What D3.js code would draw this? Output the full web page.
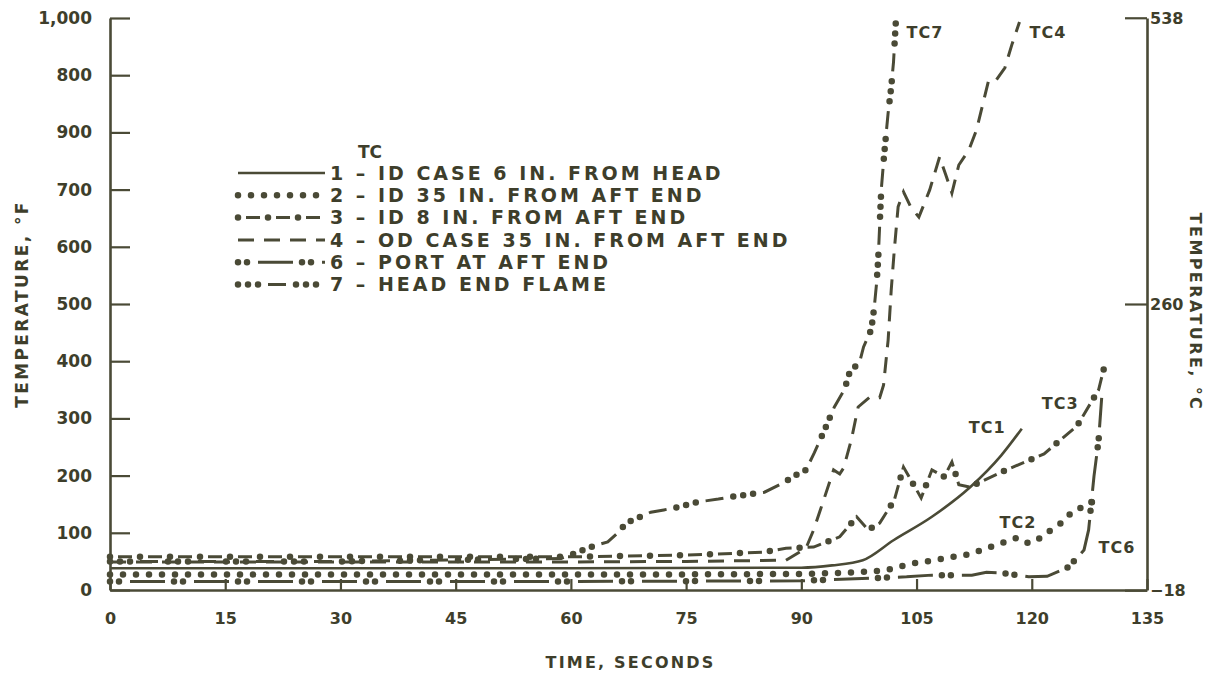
<!DOCTYPE html>
<html>
<head>
<meta charset="utf-8">
<script src="https://cdn.jsdelivr.net/npm/d3@7"></script>
<style>
  html, body { margin: 0; padding: 0; background: #fff; }
  svg { display: block; }
  text { font-family: "DejaVu Sans", sans-serif; font-weight: bold; fill: #3e3e2b; }
</style>
</head>
<body>
<div id="chart"></div>
<script>
// 温度データ（時間[s], 温度[°F]）
const tc1 = [[0,38],[30,38],[60,38],[90,39],[94,43],[98,52],[102,87],[107,128],[112,180],[116,235],[118.7,282]];
const tc2 = [[0,27],[30,27],[60,27],[88,28],[95,30],[101,35],[104,45],[107.3,52],[109.8,58],[111.9,63],[114.1,73],[116.1,82],[118.3,91],[119.7,82],[121.6,96],[123,110],[124.3,122],[125.5,140],[126.8,145],[128.2,157]];
const tc3 = [[0,58],[30,58],[60,58],[75,61],[85,66],[88,73],[91.6,75],[95,93],[97.2,128],[98.7,105],[100.2,117],[102.1,157],[103.3,215],[105.6,161],[107,210],[108.6,198],[109.6,224],[110.5,184],[111.9,180],[116.7,210],[121.6,238],[125.9,287],[128.7,350],[129.4,388]];
const tc4 = [[0,49],[30,49],[60,49],[75,50],[88,52],[90.6,73],[91.6,105],[92.9,157],[94.2,210],[95,203],[95.5,213],[96.5,262],[97.4,320],[98.9,337],[100.2,336],[100.7,358],[101.3,437],[101.7,524],[102.1,594],[102.6,670],[103.3,696],[104.3,668],[105.3,652],[106.7,699],[108,757],[108.8,726],[109.6,694],[110.5,743],[111.8,769],[112.8,804],[114.4,892],[115.4,892],[116.5,913],[117.4,953],[118.4,993]];
const tc6 = [[0,15],[30,15],[60,15],[90,16],[103.7,23],[107,26],[112.2,26],[114.1,31],[116,30],[119.6,23],[122,24],[124.8,40],[126.8,70],[127.4,105],[128.1,199],[128.7,262],[129.1,336]];
const tc7 = [[0,50],[30,50],[58.7,55],[63,77],[64.8,84],[66.1,100],[67.2,117],[70.4,136],[72.1,140],[74,145],[76.6,154],[79.2,159],[80.9,163],[82.6,166],[85.2,171],[87.6,187],[89.3,201],[90.6,210],[91.7,240],[92.9,276],[94.3,320],[95.6,350],[96.3,381],[97.6,399],[98.1,425],[99.1,455],[99.5,495],[99.8,537],[100,577],[100.2,638],[100.4,699],[100.8,764],[101.3,834],[101.7,879],[102,923],[102.3,993]];

// 軸の目盛り
const timeTicks = [0, 15, 30, 45, 60, 75, 90, 105, 120, 135];
const tempTicks = [0, 100, 200, 300, 400, 500, 600, 700, 800, 900, 1000];
const tempTickLabels = ["0", "100", "200", "300", "400", "500", "600", "700", "900", "800", "1,000"];
const celsiusTicks = [-18, 260, 538];

// 曲線ラベル（時間, 温度）
const curveLabels = [
  { text: "TC7", t: 103.7, f: 974 },
  { text: "TC4", t: 119.7, f: 974 },
  { text: "TC1", t: 111.8, f: 285 },
  { text: "TC3", t: 121.3, f: 327 },
  { text: "TC2", t: 115.8, f: 119 },
  { text: "TC6", t: 128.7, f: 75 }
];

// 凡例
const legendItems = [
  { key: "tc1", text: "1 – ID CASE 6 IN. FROM HEAD" },
  { key: "tc2", text: "2 – ID 35 IN. FROM AFT END" },
  { key: "tc3", text: "3 – ID 8 IN. FROM AFT END" },
  { key: "tc4", text: "4 – OD CASE 35 IN. FROM AFT END" },
  { key: "tc6", text: "6 – PORT AT AFT END" },
  { key: "tc7", text: "7 – HEAD END FLAME" }
];

const ink = "#4a4a36";
const width = 1223, height = 673;
const margin = { top: 18, right: 76, bottom: 83, left: 110 };

// 線種：dash = 細線の破線, dots = 丸点の配置
const styles = {
  tc1: { dash: null, dots: null },
  tc2: { dash: "none", dots: "0 13" },
  tc3: { dash: "0 8 14 8", dots: "0 30" },
  tc4: { dash: "16 10", dots: null },
  tc6: { dash: "0 20 35 9", dots: "0 9 0 55" },
  tc7: { dash: "0 30 18 10", dots: "0 10 0 10 0 38" }
};

const svg = d3.select("#chart").append("svg")
  .attr("width", width)
  .attr("height", height);

const x = d3.scaleLinear().domain([0, 135]).range([margin.left, width - margin.right]);
const y = d3.scaleLinear().domain([0, 1000]).range([height - margin.bottom, margin.top]);
const yC = d3.scaleLinear().domain([(0 - 32) * 5 / 9, (1000 - 32) * 5 / 9]).range(y.range());

// 軸
const gx = svg.append("g")
  .attr("transform", `translate(0,${y(0)})`)
  .call(d3.axisBottom(x).tickValues(timeTicks).tickSize(-11).tickSizeOuter(0).tickPadding(23).tickFormat(d3.format("d")));

const gy = svg.append("g")
  .attr("transform", `translate(${x(0)},0)`)
  .call(d3.axisLeft(y).tickValues(tempTicks).tickSize(-20).tickSizeOuter(0).tickPadding(18)
    .tickFormat((d, i) => tempTickLabels[i]));

const gyr = svg.append("g")
  .attr("transform", `translate(${x(135)},0)`)
  .call(d3.axisRight(yC).tickValues(celsiusTicks).tickSize(-22).tickSizeOuter(0).tickPadding(3)
    .tickFormat(d3.format("d")));

[gx, gy, gyr].forEach(g => {
  g.selectAll("path.domain").attr("stroke", ink).attr("stroke-width", 2.6);
  g.selectAll(".tick line").attr("stroke", ink).attr("stroke-width", 2.2);
  g.selectAll(".tick text")
    .attr("fill", "#3e3e2b")
    .style("font-family", "DejaVu Sans, sans-serif")
    .style("font-weight", "bold")
    .style("font-size", "16px");
});
gy.selectAll(".tick text").style("font-size", "17px");
gyr.selectAll(".tick text").attr("dy", "0.35em").style("font-size", "16px");

// 軸タイトル
svg.append("text")
  .attr("transform", `translate(28,${(y(0) + y(1000)) / 2}) rotate(-90)`)
  .attr("text-anchor", "middle")
  .style("font-size", "17px")
  .style("letter-spacing", "2.4px")
  .text("TEMPERATURE, °F");

svg.append("text")
  .attr("transform", `translate(1190,${(y(0) + y(1000)) / 2 + 8}) rotate(90)`)
  .attr("text-anchor", "middle")
  .style("font-size", "16px")
  .style("letter-spacing", "2.4px")
  .text("TEMPERATURE, °C");

svg.append("text")
  .attr("x", (x(0) + x(135)) / 2 + 2)
  .attr("y", 668)
  .attr("text-anchor", "middle")
  .style("font-size", "16px")
  .style("letter-spacing", "2.2px")
  .text("TIME, SECONDS");

// 線を描く
const line = d3.line().x(d => x(d[0])).y(d => y(d[1]));
const smooth = d3.line().x(d => x(d[0])).y(d => y(d[1])).curve(d3.curveMonotoneX);

function drawSeries(g, pathD, st) {
  if (st.dash === null && st.dots === null) {
    g.append("path").attr("d", pathD).attr("fill", "none")
      .attr("stroke", ink).attr("stroke-width", 2.6);
    return;
  }
  if (st.dash && st.dash !== "none") {
    g.append("path").attr("d", pathD).attr("fill", "none")
      .attr("stroke", ink).attr("stroke-width", 3)
      .attr("stroke-dasharray", st.dash);
  }
  if (st.dots) {
    g.append("path").attr("d", pathD).attr("fill", "none")
      .attr("stroke", ink).attr("stroke-width", 6.5)
      .attr("stroke-linecap", "round")
      .attr("stroke-dasharray", st.dots);
  }
}

const series = { tc1, tc2, tc3, tc4, tc6, tc7 };
const plot = svg.append("g");
Object.keys(series).forEach(k => {
  const gen = (k === "tc1" || k === "tc2") ? smooth : line;
  drawSeries(plot.append("g"), gen(series[k]), styles[k]);
});

// 曲線ラベル
svg.selectAll("text.curve-label")
  .data(curveLabels)
  .enter()
  .append("text")
  .attr("class", "curve-label")
  .attr("x", d => x(d.t))
  .attr("y", d => y(d.f))
  .attr("dy", "0.35em")
  .style("font-size", "16px")
  .style("letter-spacing", "1px")
  .text(d => d.text);

// 凡例
const legend = svg.append("g").attr("transform", "translate(235,152)");
legend.append("text").attr("x", 123).attr("y", 0).attr("dy", "0.35em")
  .style("font-size", "17px").text("TC");
legendItems.forEach((item, i) => {
  const yy = 21 + i * 22.3;
  drawSeries(legend.append("g"), `M3,${yy}H90`, styles[item.key]);
  legend.append("text")
    .attr("x", 95)
    .attr("y", yy)
    .attr("dy", "0.36em")
    .style("font-size", "19px")
    .style("letter-spacing", "3px")
    .text(item.text);
});
</script>
</body>
</html>
